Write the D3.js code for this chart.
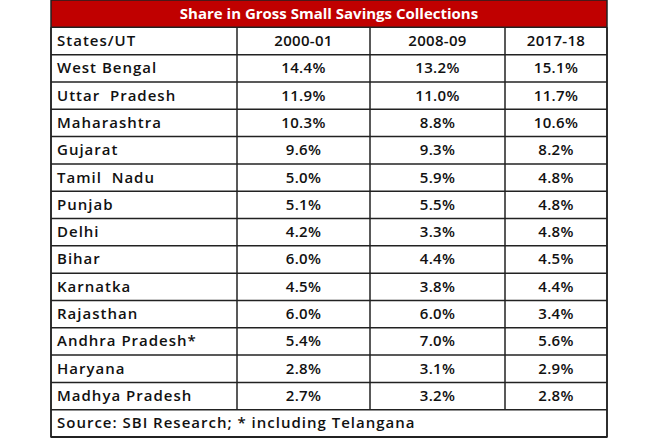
<!DOCTYPE html>
<html>
<head>
<meta charset="utf-8">
<script src="https://cdn.jsdelivr.net/npm/d3@7"></script>
<style>body{margin:0;background:#fff;}</style>
</head>
<body>
<div id="chart"></div>
<script>
const title = "Share in Gross Small Savings Collections";
const headers = ["States/UT", "2000-01", "2008-09", "2017-18"];
const states = ["West Bengal", "Uttar  Pradesh", "Maharashtra", "Gujarat", "Tamil  Nadu", "Punjab", "Delhi",
    "Bihar", "Karnatka", "Rajasthan", "Andhra Pradesh*", "Haryana", "Madhya Pradesh"];
const y2000 = [14.4, 11.9, 10.3, 9.6, 5.0, 5.1, 4.2, 6.0, 4.5, 6.0, 5.4, 2.8, 2.7];
const y2008 = [13.2, 11.0, 8.8, 9.3, 5.9, 5.5, 3.3, 4.4, 3.8, 6.0, 7.0, 3.1, 3.2];
const y2017 = [15.1, 11.7, 10.6, 8.2, 4.8, 4.8, 4.8, 4.5, 4.4, 3.4, 5.6, 2.9, 2.8];
const source = "Source: SBI Research; * including Telangana";

const width = 660, height = 440;
const tLeft = 51, tRight = 607, tTop = 0, tBottom = 437;
const colEdges = [tLeft, 237, 370, 505, tRight];
const nRows = states.length + 3;
const y = d3.scaleLinear().domain([0, nRows]).range([tTop, tBottom]);

const svg = d3.select("#chart").append("svg").attr("width", width).attr("height", height);
const font = "'Open Sans', sans-serif";

// title bar
svg.append("rect").attr("x", tLeft).attr("y", y(0)).attr("width", tRight - tLeft).attr("height", y(1) - y(0))
    .attr("fill", "#c00000");
svg.append("text").attr("x", (tLeft + tRight) / 2).attr("y", (y(0) + y(1)) / 2 + 1)
    .attr("text-anchor", "middle").attr("dominant-baseline", "middle")
    .style("font-family", font).style("font-weight", 700).style("font-size", "15px").style("fill", "#fff")
    .text(title);

const fmt = d3.format(".1f");
const rows = [headers].concat(states.map((s, i) => [s, fmt(y2000[i]) + "%", fmt(y2008[i]) + "%", fmt(y2017[i]) + "%"]));

rows.forEach((r, i) => {
    const yc = (y(i + 1) + y(i + 2)) / 2 + 1;
    r.forEach((t, j) => {
        svg.append("text")
            .attr("x", j === 0 ? tLeft + 6 : (colEdges[j] + colEdges[j + 1]) / 2)
            .attr("y", yc)
            .attr("text-anchor", j === 0 ? "start" : "middle")
            .attr("dominant-baseline", "middle")
            .style("font-family", font).style("font-weight", 600).style("font-size", "15px")
            .style("letter-spacing", j === 0 ? "1px" : "0.3px").style("fill", "#111")
            .style("white-space", "pre")
            .text(t);
    });
});
svg.append("text").attr("x", tLeft + 6).attr("y", (y(nRows - 1) + y(nRows)) / 2 + 1)
    .attr("dominant-baseline", "middle")
    .style("font-family", font).style("font-weight", 600).style("font-size", "15px")
    .style("letter-spacing", "1px").style("fill", "#111")
    .text(source);

// grid lines
const stroke = "#222";
for (let i = 1; i <= nRows; i++) {
    svg.append("line").attr("x1", tLeft).attr("x2", tRight).attr("y1", y(i)).attr("y2", y(i))
        .attr("stroke", stroke).attr("stroke-width", i === nRows ? 2 : 1.5);
}
colEdges.forEach((x, j) => {
    const yEnd = (j === 0 || j === colEdges.length - 1) ? y(nRows) : y(nRows - 1);
    svg.append("line").attr("x1", x).attr("x2", x).attr("y1", y(1)).attr("y2", yEnd)
        .attr("stroke", stroke).attr("stroke-width", 1.5);
});
svg.append("rect").attr("x", tLeft).attr("y", y(0)).attr("width", tRight - tLeft).attr("height", y(nRows) - y(0))
    .attr("fill", "none").attr("stroke", stroke).attr("stroke-width", 1.5);
</script>
</body>
</html>
